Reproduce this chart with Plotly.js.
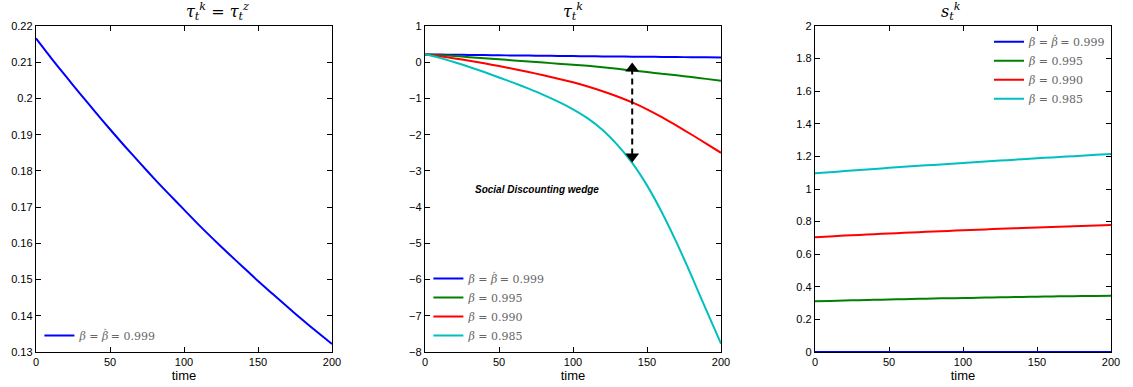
<!DOCTYPE html>
<html>
<head>
<meta charset="utf-8">
<script src="https://cdn.plot.ly/plotly-3.0.1.min.js"></script>
<style>html,body{margin:0;padding:0;background:#fff;}#chart{width:1133px;height:387px;}</style>
</head>
<body>
<div id="chart"></div>
<script>
// ---- data ----
const time = [0,10,20,30,40,50,60,70,80,90,100,110,120,130,140,150,160,170,180,190,200];

// panel 1 & blue of panel 2: tau_t^k = tau_t^z, beta = beta_hat = 0.999
const tauZ999 = [0.2166,0.2113,0.2062,0.2012,0.1963,0.1915,0.1868,0.1823,0.1778,0.1735,0.1693,0.1651,0.1611,0.1572,0.1534,0.1496,0.1460,0.1424,0.1389,0.1355,0.1322];

// panel 2: tau_t^k
const tauK995 = [0.22,0.195,0.17,0.14,0.11,0.08,0.05,0.02,-0.01,-0.04,-0.07,-0.10,-0.14,-0.18,-0.23,-0.27,-0.32,-0.36,-0.41,-0.46,-0.51];
const tauK990 = [0.22,0.165,0.105,0.04,-0.03,-0.105,-0.185,-0.27,-0.36,-0.455,-0.555,-0.67,-0.80,-0.945,-1.11,-1.30,-1.515,-1.75,-1.995,-2.245,-2.50];
const tauK985 = [0.22,0.12,0.00,-0.13,-0.27,-0.42,-0.57,-0.73,-0.90,-1.09,-1.30,-1.55,-1.87,-2.28,-2.78,-3.40,-4.14,-4.98,-5.89,-6.84,-7.77];

// panel 3: s_t^k
const sK999 = [0,0,0,0,0,0,0,0,0,0,0,0,0,0,0,0,0,0,0,0,0];
const sK995 = [0.311,0.313,0.316,0.318,0.320,0.322,0.324,0.326,0.328,0.330,0.331,0.333,0.335,0.336,0.338,0.339,0.341,0.342,0.343,0.344,0.345];
const sK990 = [0.704,0.709,0.714,0.718,0.723,0.727,0.731,0.735,0.739,0.743,0.747,0.750,0.754,0.757,0.761,0.764,0.767,0.770,0.773,0.776,0.779];
const sK985 = [1.096,1.103,1.110,1.117,1.123,1.130,1.136,1.142,1.148,1.154,1.160,1.166,1.172,1.177,1.183,1.188,1.194,1.199,1.204,1.210,1.215];

// wedge arrow (panel 2)
const wedgeTime = [140,140];
const wedgeY = [-0.17,-2.6];
const wedgeLabel = "Social Discounting wedge";

const betaHat = "<span style='letter-spacing:-5px'><i>β</i></span><sup>ˆ</sup>";
const names = ["<i>β</i> = "+betaHat+" = 0.999","<i>β</i> = 0.995","<i>β</i> = 0.990","<i>β</i> = 0.985"];
const titles = ["<i>τ</i><sub><i>t</i></sub><sup><i>k</i></sup> = <i>τ</i><sub><i>t</i></sub><sup><i>z</i></sup>","<i>τ</i><sub><i>t</i></sub><sup><i>k</i></sup>","<i>s</i><sub><i>t</i></sub><sup><i>k</i></sup>"];

// ---- styling ----
const colors = ["#0000ff","#008000","#ff0000","#00bfbf"];
const LW = 2;
const W = 1133, H = 387;
const doms = [[36/W,332/W],[425/W,721/W],[815/W,1111/W]];
const ydom = [(H-352)/H,(H-26)/H];

function line(x,y,c,name,xa,ya,leg,show){
  return {x:x,y:y,type:'scatter',mode:'lines',line:{color:c,width:LW,shape:'spline',smoothing:0.6},name:name,
          xaxis:xa,yaxis:ya,legend:leg,showlegend:show,hoverinfo:'skip'};
}

const traces = [
  line(time,tauZ999,colors[0],names[0],'x','y','legend',true),
  line(time,tauZ999,colors[0],names[0],'x2','y2','legend2',true),
  line(time,tauK995,colors[1],names[1],'x2','y2','legend2',true),
  line(time,tauK990,colors[2],names[2],'x2','y2','legend2',true),
  line(time,tauK985,colors[3],names[3],'x2','y2','legend2',true),
  line(time,sK999,colors[0],names[0],'x3','y3','legend3',true),
  line(time,sK995,colors[1],names[1],'x3','y3','legend3',true),
  line(time,sK990,colors[2],names[2],'x3','y3','legend3',true),
  line(time,sK985,colors[3],names[3],'x3','y3','legend3',true),
  {x:wedgeTime,y:wedgeY,type:'scatter',mode:'lines+markers',xaxis:'x2',yaxis:'y2',
   line:{color:'#000',width:2,dash:'6px,4px'},
   marker:{symbol:['triangle-up','triangle-down'],size:12,color:'#000'},
   showlegend:false,hoverinfo:'skip',cliponaxis:false}
];

const sans = 'Liberation Sans, Arial, sans-serif';
const serif = 'DejaVu Serif, Liberation Serif, serif';
const tickFont = {family:sans,size:11,color:'#000'};
function xax(i){
  return {domain:doms[i],range:[0,200],tickvals:[0,50,100,150,200],ticks:'inside',ticklen:5,
    tickcolor:'#000',showline:true,linecolor:'#000',linewidth:1.2,mirror:'ticks',showgrid:false,
    zeroline:false,tickfont:tickFont,anchor:i===0?'y':'y'+(i+1),layer:'below traces',
    title:{text:'time',font:{family:sans,size:13,color:'#000'},standoff:2}};
}
function yax(i,range,tv){
  return {domain:ydom,range:range,tickvals:tv,ticks:'inside',ticklen:5,tickcolor:'#000',
    showline:true,linecolor:'#000',linewidth:1.2,mirror:'ticks',showgrid:false,zeroline:false,
    tickfont:tickFont,anchor:i===0?'x':'x'+(i+1),layer:'below traces'};
}
const legFont = {family:serif,size:11,color:'#666'};
const legBase = {font:legFont,bgcolor:'rgba(0,0,0,0)',borderwidth:0,tracegroupgap:0,itemwidth:30};

const titleFont = {family:serif,size:16,color:'#000'};
const layout = {
  width:W,height:H,margin:{l:0,r:0,t:0,b:0},paper_bgcolor:'#fff',plot_bgcolor:'#fff',
  xaxis:xax(0),xaxis2:xax(1),xaxis3:xax(2),
  yaxis:yax(0,[0.13,0.22],[0.13,0.14,0.15,0.16,0.17,0.18,0.19,0.2,0.21,0.22]),
  yaxis2:yax(1,[-8,1],[-8,-7,-6,-5,-4,-3,-2,-1,0,1]),
  yaxis3:yax(2,[0,2],[0,0.2,0.4,0.6,0.8,1,1.2,1.4,1.6,1.8,2]),
  legend:Object.assign({},legBase,{x:doms[0][0]+0.003,y:ydom[0]+0.005,xanchor:'left',yanchor:'bottom'}),
  legend2:Object.assign({},legBase,{x:doms[1][0]+0.003,y:ydom[0]+0.005,xanchor:'left',yanchor:'bottom'}),
  legend3:Object.assign({},legBase,{x:doms[2][1],y:ydom[1]-0.003,xanchor:'right',yanchor:'top'}),
  annotations:[
    {text:titles[0],xref:'paper',yref:'paper',x:(doms[0][0]+doms[0][1])/2,y:ydom[1],yanchor:'bottom',yshift:1,showarrow:false,font:titleFont},
    {text:titles[1],xref:'paper',yref:'paper',x:(doms[1][0]+doms[1][1])/2,y:ydom[1],yanchor:'bottom',yshift:1,showarrow:false,font:titleFont},
    {text:titles[2],xref:'paper',yref:'paper',x:(doms[2][0]+doms[2][1])/2,y:ydom[1],yanchor:'bottom',yshift:1,showarrow:false,font:titleFont},
    {text:'<b><i>'+wedgeLabel+'</i></b>',xref:'x2',yref:'y2',x:76,y:-3.5,showarrow:false,
     font:{family:sans,size:10,color:'#000'}}
  ]
};

Plotly.newPlot('chart',traces,layout,{staticPlot:true,displayModeBar:false});
</script>
</body>
</html>
